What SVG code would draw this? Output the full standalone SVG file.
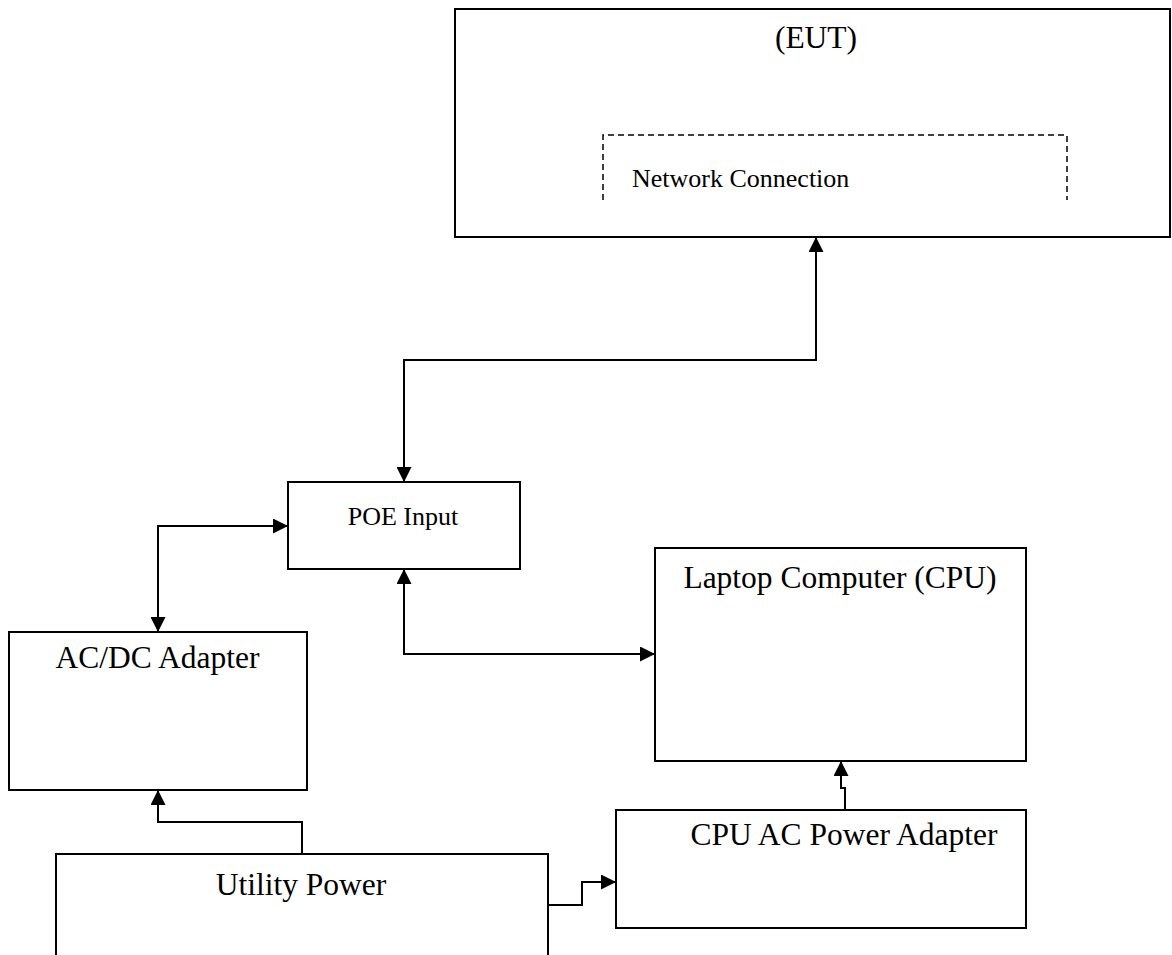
<svg xmlns="http://www.w3.org/2000/svg" width="1172" height="955" viewBox="0 0 1172 955">
<style>
.box{fill:#fff;stroke:#000;stroke-width:2}
.dash{fill:none;stroke:#000;stroke-width:1.5;stroke-dasharray:6,4}
.conn{fill:none;stroke:#000;stroke-width:2}
text{font-family:"Liberation Serif","Times New Roman",serif;fill:#000;text-anchor:middle}
.big{font-size:31.5px}
.small{font-size:26px}
</style>
<defs>
<marker id="ah" viewBox="0 0 15 15" refX="15" refY="7.5" markerWidth="15" markerHeight="15" markerUnits="userSpaceOnUse" orient="auto-start-reverse">
<path d="M0,0 L15,7.5 L0,15 z" fill="#000"/>
</marker>
</defs>
<rect width="1172" height="955" fill="#fff"/>
<g id="eut">
<rect class="box" x="455" y="9" width="715" height="228"/>
<text class="big" x="816" y="48">(EUT)</text>
<path class="dash" d="M603,200 V135 H1067 V200"/>
<text class="small" x="632" y="187" style="text-anchor:start">Network Connection</text>
</g>
<g id="poe">
<rect class="box" x="288" y="482" width="232" height="87"/>
<text class="small" x="403" y="525">POE Input</text>
</g>
<g id="acdc">
<rect class="box" x="9" y="632" width="298" height="158"/>
<text class="big" x="157.5" y="668">AC/DC Adapter</text>
</g>
<g id="laptop">
<rect class="box" x="655" y="548" width="371" height="213"/>
<text class="big" x="840" y="588">Laptop Computer (CPU)</text>
</g>
<g id="cpuadapter">
<rect class="box" x="616" y="810" width="410" height="118"/>
<text class="big" x="844" y="845">CPU AC Power Adapter</text>
</g>
<g id="utility">
<rect class="box" x="56" y="854" width="492" height="120"/>
<text class="big" x="301" y="895">Utility Power</text>
</g>
<g id="connectors">
<path class="conn" d="M816,237 V360 H404 V482" marker-start="url(#ah)" marker-end="url(#ah)"/>
<path class="conn" d="M288,526 H158 V632" marker-start="url(#ah)" marker-end="url(#ah)"/>
<path class="conn" d="M404,569 V654 H655" marker-start="url(#ah)" marker-end="url(#ah)"/>
<path class="conn" d="M302,854 V822 H158 V790" marker-end="url(#ah)"/>
<path class="conn" d="M548,905 H582 V882 H616" marker-end="url(#ah)"/>
<path class="conn" d="M845,810 V788 H841 V761" marker-end="url(#ah)"/>
</g>
</svg>
